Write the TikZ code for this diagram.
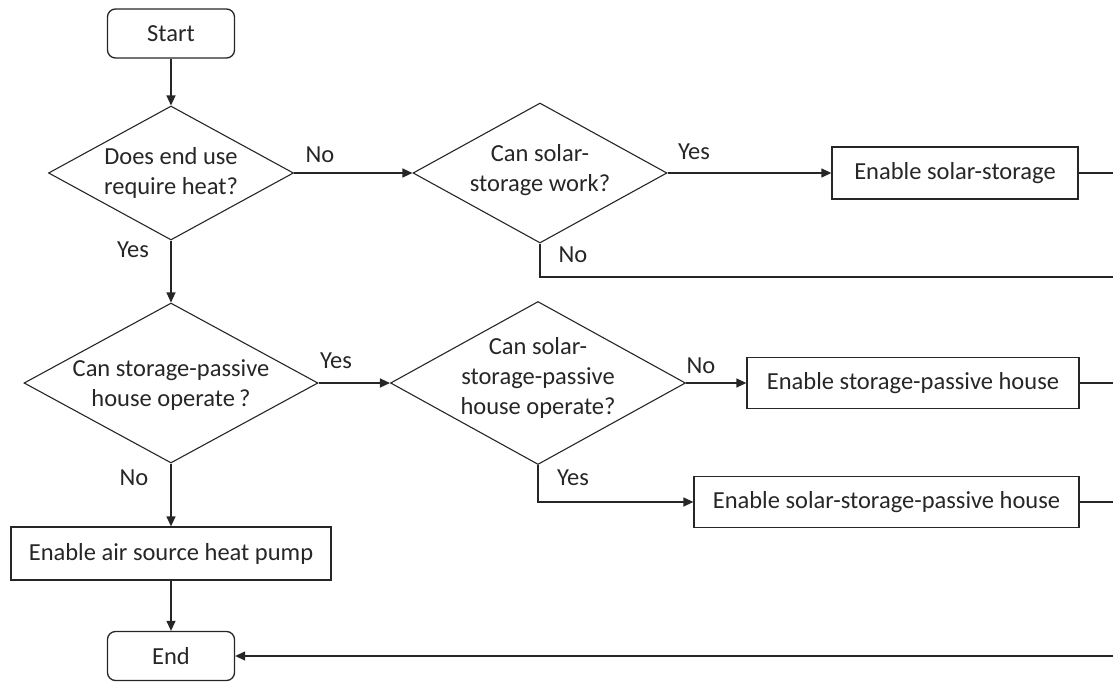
\documentclass[tikz,border=0pt]{standalone}
\usepackage{fontspec}
\setmainfont{Carlito}
\usetikzlibrary{shapes.geometric,arrows.meta}
\begin{document}
\begin{tikzpicture}[x=1pt,y=-1pt,
  font=\fontsize{24.5}{30}\selectfont,
  conn/.style={draw=black!85, line width=1.3pt},
  arr/.style={conn, -{Triangle[length=10pt,width=9pt]}},
  term/.style={draw=black!85, line width=1.3pt, rounded corners=8pt, minimum width=127pt, minimum height=49pt, inner sep=0pt, text=black!85},
  proc/.style={draw=black!85, line width=1.3pt, inner sep=0pt, text=black!85},
  dec/.style={diamond, draw=black!85, line width=1.1pt, inner sep=0pt},
  dtext/.style={align=center, inner sep=0pt, text=black!85},
  lbl/.style={inner sep=0pt, text=black!85}
]
\useasboundingbox (0,0) rectangle (1113,682);

% terminals
\node[term] (start) at (171,33.5) {Start};
\node[term] (end) at (171,656) {End};

% decisions
\node[dec, minimum width=245pt, minimum height=134pt] (d1) at (171,173) {};
\node[dtext] (d1t) at (d1) {Does end use\\require heat?};
\node[dec, minimum width=254pt, minimum height=140pt] (d2) at (540,173) {};
\node[dtext] (d2t) at (540,170) {Can solar-\\storage work?};
\node[dec, minimum width=294pt, minimum height=160pt] (d3) at (171,383) {};
\node[dtext] (d3t) at (171,385) {Can storage-passive\\house operate\,?};
\node[dec, minimum width=295pt, minimum height=163pt] (d4) at (538,383) {};
\node[dtext] (d4t) at (538,378) {Can solar-\\storage-passive\\house operate?};

% processes
\node[proc, minimum width=246pt, minimum height=52pt] (b1) at (955,173) {Enable solar-storage};
\node[proc, minimum width=332pt, minimum height=51pt] (b2) at (913,383) {Enable storage-passive house};
\node[proc, minimum width=385pt, minimum height=51pt] (b3) at (886.5,502) {Enable solar-storage-passive house};
\node[proc, minimum width=320pt, minimum height=53pt] (b4) at (171,553.5) {Enable air source heat pump};

% free ends at the right edge
\coordinate (r1) at (1113,173);
\coordinate (r2) at (1113,277);
\coordinate (r3) at (1113,383);
\coordinate (r4) at (1113,502);
\coordinate (r5) at (1113,656);

% connectors
\draw[arr] (start) -- (d1);
\draw[arr] (d1.east) -- (d2.west);
\draw[arr] (d2.east) -- (b1.west);
\draw[conn] (b1.east) -- (r1);
\draw[conn] (d2.south) |- (r2);
\draw[arr] (d1.south) -- (d3.north);
\draw[arr] (d3.east) -- (d4.west);
\draw[arr] (d4.east) -- (b2.west);
\draw[conn] (b2.east) -- (r3);
\draw[arr] (d4.south) |- (b3.west);
\draw[conn] (b3.east) -- (r4);
\draw[arr] (d3.south) -- (b4.north);
\draw[arr] (b4.south) -- (end.north);
\draw[arr] (r5) -- (end.east);

% labels
\node[lbl] (l1) at (320,155) {No};
\node[lbl] (l2) at (133,250) {Yes};
\node[lbl] (l3) at (694,152) {Yes};
\node[lbl] (l4) at (573,255) {No};
\node[lbl] (l5) at (336,361) {Yes};
\node[lbl] (l6) at (134,478) {No};
\node[lbl] (l7) at (701,366) {No};
\node[lbl] (l8) at (573,478) {Yes};
\end{tikzpicture}
\end{document}
